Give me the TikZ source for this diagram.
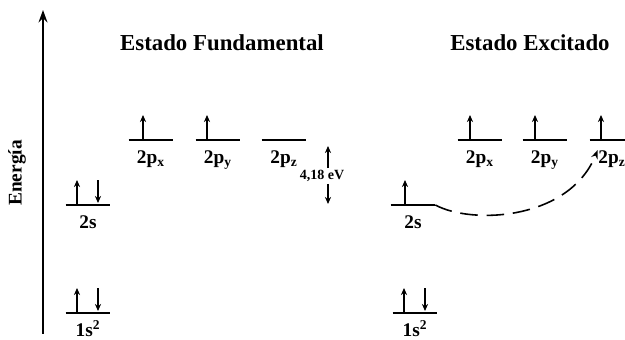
\documentclass[tikz,border=0pt]{standalone}
\usepackage{fontspec}
\setmainfont{Liberation Serif}
\usetikzlibrary{positioning,arrows.meta}
\begin{document}
\begin{tikzpicture}[x=0.02cm, y=-0.02cm, font=\bfseries,
  orbital/.style={inner sep=0pt, minimum width=0.88cm, minimum height=0pt},
  lab/.style={anchor=base, inner sep=0pt, font=\fontsize{11}{13}\selectfont\bfseries},
  title/.style={font=\fontsize{13}{15}\selectfont\bfseries},
  spin/.style={-{Stealth[length=4pt,width=3.5pt]}, line width=0.8pt},
  promo/.style={-{Stealth[length=5pt]}, line width=0.9pt, dash pattern=on 10pt off 5pt}]
  \useasboundingbox (0,0) rectangle (625,340);

  % energy axis
  \coordinate (axbot) at (43,334);
  \coordinate (axtop) at (43,10);
  \draw[line width=1.6pt, -{Stealth[length=7pt,width=5pt]}] (axbot) -- (axtop);
  \node[rotate=90, font=\fontsize{11}{13}\selectfont\bfseries] (energia) at (17,173) {Energía};

  % titles
  \node[title] (tfund) at (222,43) {Estado Fundamental};
  \node[title] (texc) at (530,43) {Estado Excitado};

  % levels
  \node[orbital] (a1s) at (88,313) {};
  \node[orbital] (a2s) at (88,205) {};
  \node[orbital] (a2px) at (151,140) {};
  \node[orbital] (a2py) at (218,140) {};
  \node[orbital] (a2pz) at (284,140) {};
  \node[orbital] (b1s) at (415,313) {};
  \node[orbital] (b2s) at (413,205) {};
  \node[orbital] (b2px) at (480,140) {};
  \node[orbital] (b2py) at (545,140) {};
  \node[orbital] (b2pz) at (612,140) {};
  \foreach \n in {a1s,a2s,a2px,a2py,a2pz,b1s,b2s,b2px,b2py,b2pz}
    \draw[line width=0.8pt] (\n.west) -- (\n.east);

  % labels
  \node[below=0.46cm of a1s, lab] (la1s) {1s\textsuperscript{2}};
  \node[below=0.46cm of a2s, lab] (la2s) {2s};
  \node[below=0.46cm of a2px, lab] (la2px) {2p\textsubscript{x}};
  \node[below=0.46cm of a2py, lab] (la2py) {2p\textsubscript{y}};
  \node[below=0.46cm of a2pz, lab] (la2pz) {2p\textsubscript{z}};
  \node[below=0.46cm of b1s, lab] (lb1s) {1s\textsuperscript{2}};
  \node[below=0.46cm of b2s, lab] (lb2s) {2s};
  \node[below=0.46cm of b2px, lab] (lb2px) {2p\textsubscript{x}};
  \node[below=0.46cm of b2py, lab] (lb2py) {2p\textsubscript{y}};
  \node[below=0.46cm of b2pz, lab] (lb2pz) {2p\textsubscript{z}};

  % electrons
  \foreach \n/\dx in {a1s/-11,a2s/-11,a2px/-8,a2py/-11,b1s/-11,b2s/-8,b2px/-10,b2py/-10,b2pz/-11}
    \draw[spin] ([xshift=\dx*0.02cm]\n.center) -- ++(0,-25);
  \foreach \n/\dx in {a1s/10,a2s/10,b1s/10}
    \draw[spin] ([xshift=\dx*0.02cm,yshift=0.5cm]\n.center) -- ++(0,23);

  % 2s-2p gap
  \node[font=\fontsize{8}{9}\selectfont\bfseries, inner sep=1pt] (gap) at (322,176) {4,18 eV};
  \coordinate (gtop) at (328,146);
  \coordinate (gbot) at (328,204);
  \draw[spin] (gap.north -| gtop) -- (gtop);
  \draw[spin] (gap.south -| gbot) -- (gbot);

  % promotion
  \draw[promo] (b2s.east) .. controls +(37,20) and +(-28,70) .. ([xshift=0.16cm,yshift=-0.2cm]b2pz.west);
\end{tikzpicture}
\end{document}
